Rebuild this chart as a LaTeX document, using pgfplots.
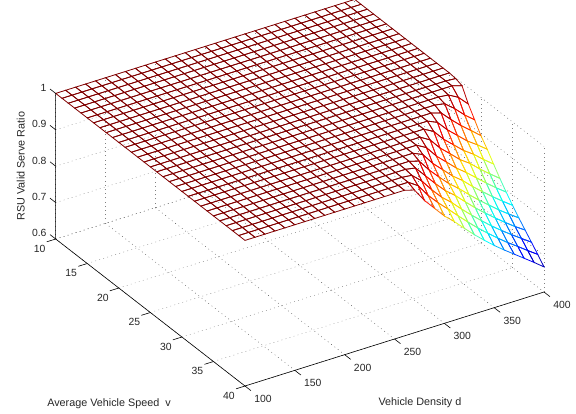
\documentclass[border=0pt]{standalone}
\usepackage{fontspec}
\setmainfont{Liberation Sans}
\usepackage{pgfplots}
\pgfplotsset{compat=1.18}
\tikzset{
  griddark/.style={draw=black!75, line width=0.4pt, dash pattern=on 0.8pt off 3.4pt},
  gridlight/.style={draw=black!50, line width=0.45pt, dash pattern=on 0.8pt off 3.4pt},
  axline/.style={black, line width=0.6pt},
}
\begin{document}
\begin{tikzpicture}
\begin{axis}[
    x={(0.9967pt,0.3133pt)},
    y={(6.31pt,-4.9pt)},
    z={(0pt,364pt)},
    xmin=100, xmax=400,
    ymin=10, ymax=40,
    zmin=0.6, zmax=1,
    xtick={100,150,200,250,300,350,400},
    ytick={10,15,20,25,30,35,40},
    ztick={0.6,0.7,0.8,0.9,1},
    axis line style={draw=none},
    tick style={draw=none},
    major tick length=0pt,
    clip=false,
    colormap/jet,
    point meta min=0.669,
    point meta max=1,
    /pgf/number format/assume math mode=true,
    tick label style={font=\fontsize{10.4}{12}\selectfont, text=black!85, inner sep=0pt},
    xticklabel style={anchor=center, xshift=18pt, yshift=-13pt},
    yticklabel style={anchor=center, xshift=-16pt, yshift=-9.5pt},
    zticklabel style={anchor=east, xshift=-9pt, yshift=5.7pt},
    label style={font=\fontsize{10.8}{13}\selectfont, text=black!85},
    xlabel={Vehicle Density d},
    ylabel={Average Vehicle Speed\ \ v},
    zlabel={RSU Valid Serve Ratio},
    xlabel style={at={(axis cs:100,40,0.6)}, anchor=center, xshift=175pt, yshift=-16.5pt},
    ylabel style={at={(axis cs:100,40,0.6)}, anchor=center, xshift=-136pt, yshift=-17.5pt},
    % zlabel is rotated by 90, so these shifts run along and across the text
    zlabel style={at={(axis cs:100,10,0.6)}, anchor=center, xshift=73pt, yshift=35pt},
]
% grid on the floor and the two back walls
\pgfplotsinvokeforeach{100,150,200,250,300,350,400}{
  \draw[griddark] (axis cs:#1,10,0.6) -- (axis cs:#1,40,0.6);
  \draw[gridlight] (axis cs:#1,10,0.6) -- (axis cs:#1,10,1);
}
\pgfplotsinvokeforeach{10,15,20,25,30,35,40}{
  \draw[gridlight] (axis cs:100,#1,0.6) -- (axis cs:400,#1,0.6);
  \draw[gridlight] (axis cs:400,#1,0.6) -- (axis cs:400,#1,1);
}
\pgfplotsinvokeforeach{0.7,0.8,0.9,1}{
  \draw[gridlight] (axis cs:100,10,#1) -- (axis cs:400,10,#1);
  \draw[griddark] (axis cs:400,10,#1) -- (axis cs:400,40,#1);
}
\draw[griddark] (axis cs:100,10,0.6) -- (axis cs:400,10,0.6);
\addplot3[mesh, mesh/rows=31, point meta=z, line width=0.8pt] coordinates {
(100,10,1)(110,10,1)(120,10,1)(130,10,1)(140,10,1)(150,10,1)(160,10,1)(170,10,1)(180,10,1)(190,10,1)(200,10,1)(210,10,1)(220,10,1)(230,10,1)(240,10,1)(250,10,1)(260,10,1)(270,10,1)(280,10,1)(290,10,1)(300,10,1)(310,10,1)(320,10,1)(330,10,1)(340,10,1)(350,10,1)(360,10,1)(370,10,1)(380,10,1)(390,10,1)(400,10,1)

(100,11,1)(110,11,1)(120,11,1)(130,11,1)(140,11,1)(150,11,1)(160,11,1)(170,11,1)(180,11,1)(190,11,1)(200,11,1)(210,11,1)(220,11,1)(230,11,1)(240,11,1)(250,11,1)(260,11,1)(270,11,1)(280,11,1)(290,11,1)(300,11,1)(310,11,1)(320,11,1)(330,11,1)(340,11,1)(350,11,1)(360,11,1)(370,11,1)(380,11,1)(390,11,1)(400,11,1)

(100,12,1)(110,12,1)(120,12,1)(130,12,1)(140,12,1)(150,12,1)(160,12,1)(170,12,1)(180,12,1)(190,12,1)(200,12,1)(210,12,1)(220,12,1)(230,12,1)(240,12,1)(250,12,1)(260,12,1)(270,12,1)(280,12,1)(290,12,1)(300,12,1)(310,12,1)(320,12,1)(330,12,1)(340,12,1)(350,12,1)(360,12,1)(370,12,1)(380,12,1)(390,12,1)(400,12,1)

(100,13,1)(110,13,1)(120,13,1)(130,13,1)(140,13,1)(150,13,1)(160,13,1)(170,13,1)(180,13,1)(190,13,1)(200,13,1)(210,13,1)(220,13,1)(230,13,1)(240,13,1)(250,13,1)(260,13,1)(270,13,1)(280,13,1)(290,13,1)(300,13,1)(310,13,1)(320,13,1)(330,13,1)(340,13,1)(350,13,1)(360,13,1)(370,13,1)(380,13,1)(390,13,1)(400,13,1)

(100,14,1)(110,14,1)(120,14,1)(130,14,1)(140,14,1)(150,14,1)(160,14,1)(170,14,1)(180,14,1)(190,14,1)(200,14,1)(210,14,1)(220,14,1)(230,14,1)(240,14,1)(250,14,1)(260,14,1)(270,14,1)(280,14,1)(290,14,1)(300,14,1)(310,14,1)(320,14,1)(330,14,1)(340,14,1)(350,14,1)(360,14,1)(370,14,1)(380,14,1)(390,14,1)(400,14,1)

(100,15,1)(110,15,1)(120,15,1)(130,15,1)(140,15,1)(150,15,1)(160,15,1)(170,15,1)(180,15,1)(190,15,1)(200,15,1)(210,15,1)(220,15,1)(230,15,1)(240,15,1)(250,15,1)(260,15,1)(270,15,1)(280,15,1)(290,15,1)(300,15,1)(310,15,1)(320,15,1)(330,15,1)(340,15,1)(350,15,1)(360,15,1)(370,15,1)(380,15,1)(390,15,1)(400,15,1)

(100,16,1)(110,16,1)(120,16,1)(130,16,1)(140,16,1)(150,16,1)(160,16,1)(170,16,1)(180,16,1)(190,16,1)(200,16,1)(210,16,1)(220,16,1)(230,16,1)(240,16,1)(250,16,1)(260,16,1)(270,16,1)(280,16,1)(290,16,1)(300,16,1)(310,16,1)(320,16,1)(330,16,1)(340,16,1)(350,16,1)(360,16,1)(370,16,1)(380,16,1)(390,16,1)(400,16,1)

(100,17,1)(110,17,1)(120,17,1)(130,17,1)(140,17,1)(150,17,1)(160,17,1)(170,17,1)(180,17,1)(190,17,1)(200,17,1)(210,17,1)(220,17,1)(230,17,1)(240,17,1)(250,17,1)(260,17,1)(270,17,1)(280,17,1)(290,17,1)(300,17,1)(310,17,1)(320,17,1)(330,17,1)(340,17,1)(350,17,1)(360,17,1)(370,17,1)(380,17,1)(390,17,1)(400,17,1)

(100,18,1)(110,18,1)(120,18,1)(130,18,1)(140,18,1)(150,18,1)(160,18,1)(170,18,1)(180,18,1)(190,18,1)(200,18,1)(210,18,1)(220,18,1)(230,18,1)(240,18,1)(250,18,1)(260,18,1)(270,18,1)(280,18,1)(290,18,1)(300,18,1)(310,18,1)(320,18,1)(330,18,1)(340,18,1)(350,18,1)(360,18,1)(370,18,1)(380,18,1)(390,18,1)(400,18,1)

(100,19,1)(110,19,1)(120,19,1)(130,19,1)(140,19,1)(150,19,1)(160,19,1)(170,19,1)(180,19,1)(190,19,1)(200,19,1)(210,19,1)(220,19,1)(230,19,1)(240,19,1)(250,19,1)(260,19,1)(270,19,1)(280,19,1)(290,19,1)(300,19,1)(310,19,1)(320,19,1)(330,19,1)(340,19,1)(350,19,1)(360,19,1)(370,19,1)(380,19,1)(390,19,1)(400,19,1)

(100,20,1)(110,20,1)(120,20,1)(130,20,1)(140,20,1)(150,20,1)(160,20,1)(170,20,1)(180,20,1)(190,20,1)(200,20,1)(210,20,1)(220,20,1)(230,20,1)(240,20,1)(250,20,1)(260,20,1)(270,20,1)(280,20,1)(290,20,1)(300,20,1)(310,20,1)(320,20,1)(330,20,1)(340,20,1)(350,20,1)(360,20,1)(370,20,1)(380,20,1)(390,20,1)(400,20,1)

(100,21,1)(110,21,1)(120,21,1)(130,21,1)(140,21,1)(150,21,1)(160,21,1)(170,21,1)(180,21,1)(190,21,1)(200,21,1)(210,21,1)(220,21,1)(230,21,1)(240,21,1)(250,21,1)(260,21,1)(270,21,1)(280,21,1)(290,21,1)(300,21,1)(310,21,1)(320,21,1)(330,21,1)(340,21,1)(350,21,1)(360,21,1)(370,21,1)(380,21,1)(390,21,1)(400,21,1)

(100,22,1)(110,22,1)(120,22,1)(130,22,1)(140,22,1)(150,22,1)(160,22,1)(170,22,1)(180,22,1)(190,22,1)(200,22,1)(210,22,1)(220,22,1)(230,22,1)(240,22,1)(250,22,1)(260,22,1)(270,22,1)(280,22,1)(290,22,1)(300,22,1)(310,22,1)(320,22,1)(330,22,1)(340,22,1)(350,22,1)(360,22,1)(370,22,1)(380,22,1)(390,22,1)(400,22,1)

(100,23,1)(110,23,1)(120,23,1)(130,23,1)(140,23,1)(150,23,1)(160,23,1)(170,23,1)(180,23,1)(190,23,1)(200,23,1)(210,23,1)(220,23,1)(230,23,1)(240,23,1)(250,23,1)(260,23,1)(270,23,1)(280,23,1)(290,23,1)(300,23,1)(310,23,1)(320,23,1)(330,23,1)(340,23,1)(350,23,1)(360,23,1)(370,23,1)(380,23,1)(390,23,1)(400,23,1)

(100,24,1)(110,24,1)(120,24,1)(130,24,1)(140,24,1)(150,24,1)(160,24,1)(170,24,1)(180,24,1)(190,24,1)(200,24,1)(210,24,1)(220,24,1)(230,24,1)(240,24,1)(250,24,1)(260,24,1)(270,24,1)(280,24,1)(290,24,1)(300,24,1)(310,24,1)(320,24,1)(330,24,1)(340,24,1)(350,24,1)(360,24,1)(370,24,1)(380,24,1)(390,24,1)(400,24,1)

(100,25,1)(110,25,1)(120,25,1)(130,25,1)(140,25,1)(150,25,1)(160,25,1)(170,25,1)(180,25,1)(190,25,1)(200,25,1)(210,25,1)(220,25,1)(230,25,1)(240,25,1)(250,25,1)(260,25,1)(270,25,1)(280,25,1)(290,25,1)(300,25,1)(310,25,1)(320,25,1)(330,25,1)(340,25,1)(350,25,1)(360,25,1)(370,25,1)(380,25,1)(390,25,1)(400,25,1)

(100,26,1)(110,26,1)(120,26,1)(130,26,1)(140,26,1)(150,26,1)(160,26,1)(170,26,1)(180,26,1)(190,26,1)(200,26,1)(210,26,1)(220,26,1)(230,26,1)(240,26,1)(250,26,1)(260,26,1)(270,26,1)(280,26,1)(290,26,1)(300,26,1)(310,26,1)(320,26,1)(330,26,1)(340,26,1)(350,26,1)(360,26,1)(370,26,1)(380,26,1)(390,26,1)(400,26,0.998)

(100,27,1)(110,27,1)(120,27,1)(130,27,1)(140,27,1)(150,27,1)(160,27,1)(170,27,1)(180,27,1)(190,27,1)(200,27,1)(210,27,1)(220,27,1)(230,27,1)(240,27,1)(250,27,1)(260,27,1)(270,27,1)(280,27,1)(290,27,1)(300,27,1)(310,27,1)(320,27,1)(330,27,1)(340,27,1)(350,27,1)(360,27,1)(370,27,1)(380,27,1)(390,27,1)(400,27,0.992)

(100,28,1)(110,28,1)(120,28,1)(130,28,1)(140,28,1)(150,28,1)(160,28,1)(170,28,1)(180,28,1)(190,28,1)(200,28,1)(210,28,1)(220,28,1)(230,28,1)(240,28,1)(250,28,1)(260,28,1)(270,28,1)(280,28,1)(290,28,1)(300,28,1)(310,28,1)(320,28,1)(330,28,1)(340,28,1)(350,28,1)(360,28,1)(370,28,1)(380,28,0.997)(390,28,0.982)(400,28,0.955)

(100,29,1)(110,29,1)(120,29,1)(130,29,1)(140,29,1)(150,29,1)(160,29,1)(170,29,1)(180,29,1)(190,29,1)(200,29,1)(210,29,1)(220,29,1)(230,29,1)(240,29,1)(250,29,1)(260,29,1)(270,29,1)(280,29,1)(290,29,1)(300,29,1)(310,29,1)(320,29,1)(330,29,1)(340,29,1)(350,29,1)(360,29,1)(370,29,0.995)(380,29,0.973)(390,29,0.947)(400,29,0.925)

(100,30,1)(110,30,1)(120,30,1)(130,30,1)(140,30,1)(150,30,1)(160,30,1)(170,30,1)(180,30,1)(190,30,1)(200,30,1)(210,30,1)(220,30,1)(230,30,1)(240,30,1)(250,30,1)(260,30,1)(270,30,1)(280,30,1)(290,30,1)(300,30,1)(310,30,1)(320,30,1)(330,30,1)(340,30,1)(350,30,1)(360,30,0.992)(370,30,0.965)(380,30,0.94)(390,30,0.918)(400,30,0.895)

(100,31,1)(110,31,1)(120,31,1)(130,31,1)(140,31,1)(150,31,1)(160,31,1)(170,31,1)(180,31,1)(190,31,1)(200,31,1)(210,31,1)(220,31,1)(230,31,1)(240,31,1)(250,31,1)(260,31,1)(270,31,1)(280,31,1)(290,31,1)(300,31,1)(310,31,1)(320,31,1)(330,31,1)(340,31,1)(350,31,0.988)(360,31,0.959)(370,31,0.935)(380,31,0.911)(390,31,0.892)(400,31,0.871)

(100,32,1)(110,32,1)(120,32,1)(130,32,1)(140,32,1)(150,32,1)(160,32,1)(170,32,1)(180,32,1)(190,32,1)(200,32,1)(210,32,1)(220,32,1)(230,32,1)(240,32,1)(250,32,1)(260,32,1)(270,32,1)(280,32,1)(290,32,1)(300,32,1)(310,32,1)(320,32,1)(330,32,1)(340,32,0.985)(350,32,0.955)(360,32,0.931)(370,32,0.907)(380,32,0.888)(390,32,0.865)(400,32,0.844)

(100,33,1)(110,33,1)(120,33,1)(130,33,1)(140,33,1)(150,33,1)(160,33,1)(170,33,1)(180,33,1)(190,33,1)(200,33,1)(210,33,1)(220,33,1)(230,33,1)(240,33,1)(250,33,1)(260,33,1)(270,33,1)(280,33,1)(290,33,1)(300,33,1)(310,33,1)(320,33,1)(330,33,0.984)(340,33,0.953)(350,33,0.929)(360,33,0.904)(370,33,0.885)(380,33,0.861)(390,33,0.839)(400,33,0.818)

(100,34,1)(110,34,1)(120,34,1)(130,34,1)(140,34,1)(150,34,1)(160,34,1)(170,34,1)(180,34,1)(190,34,1)(200,34,1)(210,34,1)(220,34,1)(230,34,1)(240,34,1)(250,34,1)(260,34,1)(270,34,1)(280,34,1)(290,34,1)(300,34,1)(310,34,1)(320,34,0.985)(330,34,0.953)(340,34,0.928)(350,34,0.903)(360,34,0.882)(370,34,0.859)(380,34,0.836)(390,34,0.814)(400,34,0.794)

(100,35,1)(110,35,1)(120,35,1)(130,35,1)(140,35,1)(150,35,1)(160,35,1)(170,35,1)(180,35,1)(190,35,1)(200,35,1)(210,35,1)(220,35,1)(230,35,1)(240,35,1)(250,35,1)(260,35,1)(270,35,1)(280,35,1)(290,35,1)(300,35,1)(310,35,0.988)(320,35,0.955)(330,35,0.929)(340,35,0.903)(350,35,0.882)(360,35,0.857)(370,35,0.834)(380,35,0.812)(390,35,0.791)(400,35,0.771)

(100,36,1)(110,36,1)(120,36,1)(130,36,1)(140,36,1)(150,36,1)(160,36,1)(170,36,1)(180,36,1)(190,36,1)(200,36,1)(210,36,1)(220,36,1)(230,36,1)(240,36,1)(250,36,1)(260,36,1)(270,36,1)(280,36,1)(290,36,1)(300,36,0.992)(310,36,0.959)(320,36,0.931)(330,36,0.904)(340,36,0.882)(350,36,0.857)(360,36,0.833)(370,36,0.811)(380,36,0.789)(390,36,0.769)(400,36,0.75)

(100,37,1)(110,37,1)(120,37,1)(130,37,1)(140,37,1)(150,37,1)(160,37,1)(170,37,1)(180,37,1)(190,37,1)(200,37,1)(210,37,1)(220,37,1)(230,37,1)(240,37,1)(250,37,1)(260,37,1)(270,37,1)(280,37,1)(290,37,0.995)(300,37,0.965)(310,37,0.935)(320,37,0.907)(330,37,0.885)(340,37,0.859)(350,37,0.834)(360,37,0.811)(370,37,0.789)(380,37,0.768)(390,37,0.748)(400,37,0.73)

(100,38,1)(110,38,1)(120,38,1)(130,38,1)(140,38,1)(150,38,1)(160,38,1)(170,38,1)(180,38,1)(190,38,1)(200,38,1)(210,38,1)(220,38,1)(230,38,1)(240,38,1)(250,38,1)(260,38,1)(270,38,1)(280,38,0.997)(290,38,0.973)(300,38,0.94)(310,38,0.911)(320,38,0.888)(330,38,0.861)(340,38,0.836)(350,38,0.812)(360,38,0.789)(370,38,0.768)(380,38,0.748)(390,38,0.729)(400,38,0.71)

(100,39,1)(110,39,1)(120,39,1)(130,39,1)(140,39,1)(150,39,1)(160,39,1)(170,39,1)(180,39,1)(190,39,1)(200,39,1)(210,39,1)(220,39,1)(230,39,1)(240,39,1)(250,39,1)(260,39,1)(270,39,1)(280,39,0.982)(290,39,0.947)(300,39,0.918)(310,39,0.892)(320,39,0.865)(330,39,0.839)(340,39,0.814)(350,39,0.791)(360,39,0.769)(370,39,0.748)(380,39,0.729)(390,39,0.709)(400,39,0.69)

(100,40,1)(110,40,1)(120,40,1)(130,40,1)(140,40,1)(150,40,1)(160,40,1)(170,40,1)(180,40,1)(190,40,1)(200,40,1)(210,40,1)(220,40,1)(230,40,1)(240,40,1)(250,40,1)(260,40,1)(270,40,0.992)(280,40,0.955)(290,40,0.925)(300,40,0.895)(310,40,0.871)(320,40,0.844)(330,40,0.818)(340,40,0.794)(350,40,0.771)(360,40,0.75)(370,40,0.73)(380,40,0.71)(390,40,0.69)(400,40,0.669)
};
% axis lines
\draw[axline] (axis cs:100,10,1) -- (axis cs:100,10,0.6) -- (axis cs:100,40,0.6) -- (axis cs:400,40,0.6);
% ticks, outward as in the matlab box
\pgfplotsinvokeforeach{100,150,200,250,300,350,400}{
  \draw[axline] (axis cs:#1,40,0.6) -- (axis cs:#1,40.95,0.6);
}
\pgfplotsinvokeforeach{10,15,20,25,30,35,40}{
  \draw[axline] (axis cs:100,#1,0.6) -- (axis cs:91,#1,0.6);
}
\pgfplotsinvokeforeach{0.6,0.7,0.8,0.9,1}{
  \draw[axline] (axis cs:100,10,#1) -- (axis cs:100,9.1,#1);
}
\coordinate (o) at (axis cs:100,10,0.6);
\end{axis}
\pgfresetboundingbox
\path[use as bounding box] ([shift={(-55.7pt,-174pt)}]o) rectangle ([shift={(520.3pt,239pt)}]o);
\end{tikzpicture}
\end{document}
